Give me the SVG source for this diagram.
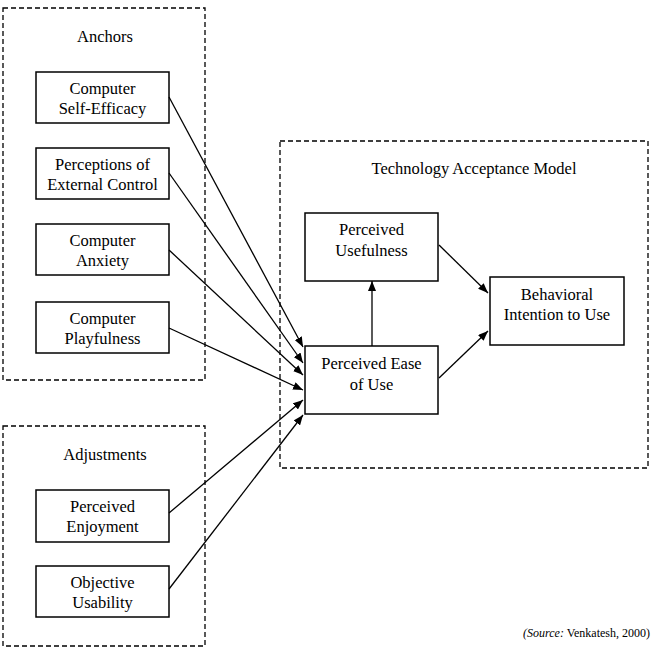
<svg xmlns="http://www.w3.org/2000/svg" width="652" height="650" viewBox="0 0 652 650" font-family="'Liberation Serif', 'Times New Roman', 'DejaVu Serif', serif">
<style>
.box{fill:#fff;stroke:#000;stroke-width:1.5}
.grp{fill:none;stroke:#000;stroke-width:1.3;stroke-dasharray:5,3}
text{font-family:'Liberation Serif','Times New Roman','DejaVu Serif',serif;font-size:16.5px;fill:#000;text-anchor:middle}
.c{stroke:#000;stroke-width:1.3;fill:none;marker-end:url(#ah)}
</style>
<defs>
<marker id="ah" viewBox="0 0 10 8" refX="10" refY="4" markerWidth="10" markerHeight="8" markerUnits="userSpaceOnUse" orient="auto">
<path d="M0,0 L10,4 L0,8 Z" fill="#000"/>
</marker>
</defs>
<rect width="652" height="650" fill="#fff"/>
<g id="anchors-group">
<rect class="grp" x="3" y="8" width="202" height="372"/>
<text x="105" y="42">Anchors</text>
</g>
<g id="adjustments-group">
<rect class="grp" x="3" y="426" width="202" height="220"/>
<text x="105" y="460">Adjustments</text>
</g>
<g id="tam-group">
<rect class="grp" x="280" y="141" width="368" height="327"/>
<text x="474" y="174">Technology Acceptance Model</text>
</g>
<g id="n-cse"><rect class="box" x="36" y="72" width="133" height="51"/><text x="102.5" y="94">Computer</text><text x="102.5" y="114">Self-Efficacy</text></g>
<g id="n-pec"><rect class="box" x="36" y="148" width="133" height="51"/><text x="102.5" y="170">Perceptions of</text><text x="102.5" y="190">External Control</text></g>
<g id="n-ca"><rect class="box" x="36" y="224" width="133" height="51"/><text x="102.5" y="246">Computer</text><text x="102.5" y="266">Anxiety</text></g>
<g id="n-cp"><rect class="box" x="36" y="302" width="133" height="51"/><text x="102.5" y="324">Computer</text><text x="102.5" y="344">Playfulness</text></g>
<g id="n-pe"><rect class="box" x="36" y="490" width="133" height="52"/><text x="102.5" y="512">Perceived</text><text x="102.5" y="532">Enjoyment</text></g>
<g id="n-ou"><rect class="box" x="36" y="566" width="133" height="51"/><text x="102.5" y="588">Objective</text><text x="102.5" y="608">Usability</text></g>
<g id="n-pu"><rect class="box" x="305" y="213" width="133" height="68"/><text x="371.5" y="235">Perceived</text><text x="371.5" y="256">Usefulness</text></g>
<g id="n-peou"><rect class="box" x="305" y="346" width="133" height="68"/><text x="371.5" y="369">Perceived Ease</text><text x="371.5" y="390">of Use</text></g>
<g id="n-bi"><rect class="box" x="490" y="277" width="134" height="68"/><text x="557" y="300">Behavioral</text><text x="557" y="320">Intention to Use</text></g>
<g id="connectors">
<line class="c" x1="169" y1="97" x2="303" y2="347"/>
<line class="c" x1="169" y1="173" x2="303" y2="363"/>
<line class="c" x1="169" y1="250" x2="303" y2="375"/>
<line class="c" x1="169" y1="328" x2="303" y2="390"/>
<line class="c" x1="169" y1="513" x2="303" y2="400"/>
<line class="c" x1="169" y1="589" x2="303" y2="415"/>
<line class="c" x1="372" y1="346" x2="372" y2="281"/>
<line class="c" x1="439" y1="245" x2="488" y2="293"/>
<line class="c" x1="439" y1="378" x2="488" y2="331"/>
</g>
<text x="650" y="637" style="font-size:12px;text-anchor:end"><tspan font-style="italic">(Source:</tspan> Venkatesh, 2000)</text>
</svg>
